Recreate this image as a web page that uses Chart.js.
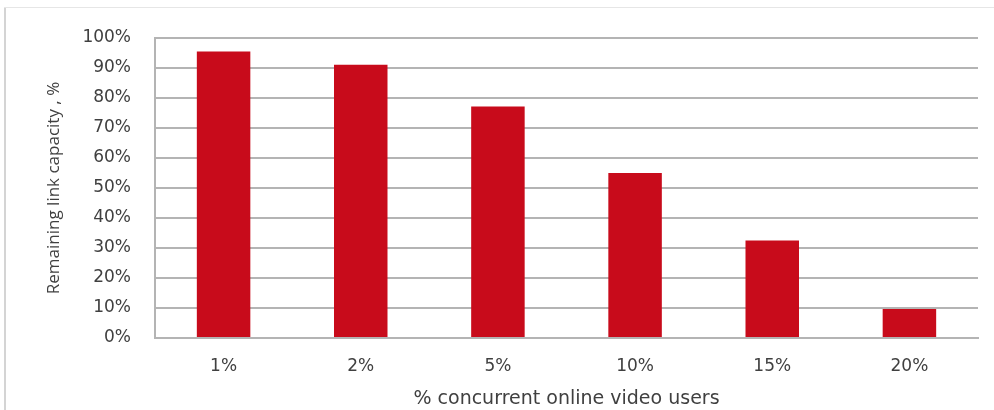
<!DOCTYPE html>
<html>
<head>
<meta charset="utf-8">
<script src="https://cdn.jsdelivr.net/npm/chart.js@4"></script>
<style>
  html, body { margin: 0; padding: 0; background: #fff; }
  #kader {
    position: relative;
    width: 994px; height: 410px;
    box-sizing: border-box;
  }
  #randLinks { position: absolute; left: 4px; top: 8px; width: 2px; height: 402px; background: #d4d4d4; }
  #randBoven { position: absolute; left: 4px; top: 7px; width: 990px; height: 1px; background: #e6e6e6; }
  canvas { position: absolute; left: 0; top: 0; }
</style>
</head>
<body>
<div id="kader">
  <canvas id="grafiek" width="994" height="410"></canvas>
  <div id="randLinks"></div>
  <div id="randBoven"></div>
</div>
<script>
// categorieen en waarden
const categorieen = ['1%', '2%', '5%', '10%', '15%', '20%'];
const restCapaciteit = [95.5, 91.1, 77.2, 55.0, 32.5, 9.7];
const yTicks = [0, 10, 20, 30, 40, 50, 60, 70, 80, 90, 100];

const tekstKleur = '#404040';
const rasterKleur = '#b4b4b4';

const ctx = document.getElementById('grafiek');

new Chart(ctx, {
    type: 'bar',
    data: {
        labels: categorieen,
        datasets: [{
            label: 'Remaining link capacity',
            data: restCapaciteit,
            backgroundColor: '#c80b1b',
            borderWidth: 0,
            categoryPercentage: 1.0,
            barPercentage: 0.39
        }]
    },
    options: {
        responsive: false,
        animation: false,
        layout: {
            padding: { left: 44, right: 16, top: 38, bottom: 0 }
        },
        plugins: {
            legend: { display: false },
            tooltip: { enabled: false }
        },
        scales: {
            x: {
                grid: { display: false, drawTicks: false },
                border: { display: true, color: rasterKleur, width: 2 },
                ticks: {
                    color: tekstKleur,
                    padding: 18,
                    font: { family: 'DejaVu Sans', size: 17 }
                },
                title: {
                    display: true,
                    text: '% concurrent online video users',
                    color: tekstKleur,
                    padding: { top: 2, bottom: 0 },
                    font: { family: 'DejaVu Sans', size: 19 }
                },
                afterFit: (as) => { as.height = 72; }
            },
            y: {
                min: 0,
                max: 100,
                afterBuildTicks: (as) => { as.ticks = yTicks.map(v => ({ value: v })); },
                grid: { color: rasterKleur, lineWidth: 2, drawTicks: false },
                border: { display: true, color: rasterKleur, width: 2 },
                ticks: {
                    color: tekstKleur,
                    padding: 24,
                    font: { family: 'DejaVu Sans', size: 17 },
                    callback: (v) => v + '%'
                },
                title: {
                    display: true,
                    text: 'Remaining link capacity , %',
                    color: tekstKleur,
                    padding: { top: 0, bottom: 0 },
                    font: { family: 'Open Sans', size: 17 }
                },
                afterFit: (as) => { as.width = 111; }
            }
        }
    }
});
</script>
</body>
</html>
